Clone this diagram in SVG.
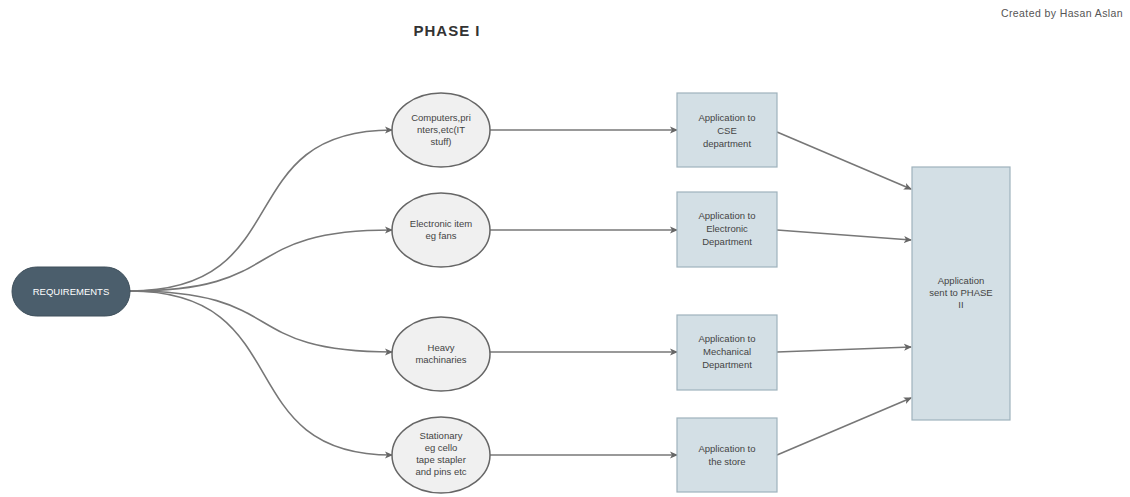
<svg xmlns="http://www.w3.org/2000/svg" width="1130" height="497" viewBox="0 0 1130 497">
<defs>
<marker id="ah" markerWidth="8" markerHeight="8" refX="7" refY="4" orient="auto" markerUnits="userSpaceOnUse">
<path d="M0,0.5 L8,4 L0,7.5 L2,4 Z" fill="#666"/>
</marker>
<style>
.t{font-family:"Liberation Sans",Arial,sans-serif;font-size:9.5px;fill:#444;text-anchor:middle}
.ell{fill:#f0f0f0;stroke:#666;stroke-width:1.5}
.box{fill:#d3dfe5;stroke:#9fb2bc;stroke-width:1.2}
.c{fill:none;stroke:#777;stroke-width:1.6;marker-end:url(#ah)}
</style>
</defs>
<rect width="1130" height="497" fill="#fff"/>
<text x="447" y="36" style="font-family:'Liberation Sans',Arial,sans-serif;font-size:15px;font-weight:bold;fill:#333;text-anchor:middle;letter-spacing:1px">PHASE I</text>
<text x="1062" y="17" style="font-family:'Liberation Sans',Arial,sans-serif;font-size:10.5px;fill:#555;text-anchor:middle;letter-spacing:0.4px">Created by Hasan Aslan</text>

<g id="connectors">
<path class="c" d="M130,291 C300,291 228,130 392,130"/>
<path class="c" d="M130,291 C290,291 235,230 392,230"/>
<path class="c" d="M130,291 C290,291 235,352 392,352"/>
<path class="c" d="M130,291 C300,291 228,455 392,455"/>
<path class="c" d="M490,130 L677,130"/>
<path class="c" d="M490,230 L677,230"/>
<path class="c" d="M490,352 L677,352"/>
<path class="c" d="M490,455 L677,455"/>
<path class="c" d="M777,132 L911,189"/>
<path class="c" d="M777,230 L911,240"/>
<path class="c" d="M777,352 L911,347"/>
<path class="c" d="M777,455 L911,398"/>
</g>

<g id="requirements">
<rect x="12" y="267" width="118" height="49" rx="24.5" fill="#4b5e6c" stroke="#3e4f5b"/>
<text x="71" y="295" style="font-family:'Liberation Sans',Arial,sans-serif;font-size:9.5px;fill:#fff;text-anchor:middle">REQUIREMENTS</text>
</g>

<g id="e1"><ellipse class="ell" cx="441" cy="130" rx="49" ry="37"/>
<text class="t" x="441" y="121">Computers,pri</text><text class="t" x="441" y="133">nters,etc(IT</text><text class="t" x="441" y="145">stuff)</text></g>
<g id="e2"><ellipse class="ell" cx="441" cy="230" rx="49" ry="37"/>
<text class="t" x="441" y="227">Electronic item</text><text class="t" x="441" y="239">eg fans</text></g>
<g id="e3"><ellipse class="ell" cx="441" cy="354" rx="49" ry="37"/>
<text class="t" x="441" y="351">Heavy</text><text class="t" x="441" y="363">machinaries</text></g>
<g id="e4"><ellipse class="ell" cx="441" cy="455" rx="49" ry="38"/>
<text class="t" x="441" y="439">Stationary</text><text class="t" x="441" y="451">eg cello</text><text class="t" x="441" y="463">tape stapler</text><text class="t" x="441" y="475">and pins etc</text></g>

<g id="r1"><rect class="box" x="677" y="93" width="100" height="74"/>
<text class="t" x="727" y="121">Application to</text><text class="t" x="727" y="134">CSE</text><text class="t" x="727" y="147">department</text></g>
<g id="r2"><rect class="box" x="677" y="192" width="100" height="75"/>
<text class="t" x="727" y="219">Application to</text><text class="t" x="727" y="232">Electronic</text><text class="t" x="727" y="245">Department</text></g>
<g id="r3"><rect class="box" x="677" y="315" width="100" height="75"/>
<text class="t" x="727" y="342">Application to</text><text class="t" x="727" y="355">Mechanical</text><text class="t" x="727" y="368">Department</text></g>
<g id="r4"><rect class="box" x="677" y="418" width="100" height="74"/>
<text class="t" x="727" y="452">Application to</text><text class="t" x="727" y="465">the store</text></g>

<g id="phase2"><rect class="box" x="912" y="167" width="98" height="253"/>
<text class="t" x="961" y="284">Application</text><text class="t" x="961" y="296">sent to PHASE</text><text class="t" x="961" y="308">II</text></g>
</svg>
